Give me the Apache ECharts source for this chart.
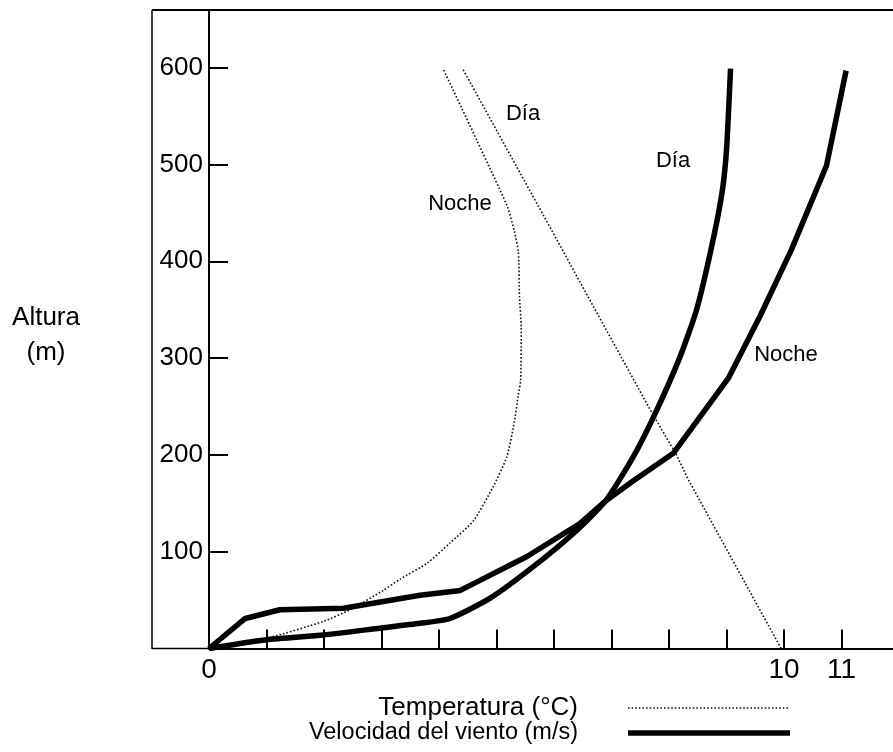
<!DOCTYPE html>
<html>
<head>
<meta charset="utf-8">
<script src="https://cdn.jsdelivr.net/npm/echarts@6/dist/echarts.min.js"></script>
<style>
  html, body { margin: 0; padding: 0; background: #fff; }
  #main { width: 893px; height: 752px; }
</style>
</head>
<body>
<div id="main"></div>
<script>
// datos: altura (m) y valor en el eje x
const tempDiaX = [9.95, 8.34, 8.13, 7.67, 6.78, 5.96, 4.41]
const tempDiaY = [0, 174, 200, 247, 343, 432, 599]

const tempNocheX = [0, 1.0, 1.99, 2.45, 3.03, 3.32, 3.79, 4.19, 4.6, 4.94, 5.18, 5.31, 5.38, 5.42, 5.43, 5.4, 5.38, 5.31, 5.18, 4.07]
const tempNocheY = [0, 10.5, 28, 40, 60, 71.5, 88, 109, 132, 167, 198, 234, 262, 277, 332, 363, 410, 431, 458, 599]

const vientoDiaX = [0, 1.0, 1.99, 2.97, 3.67, 4.19, 4.89, 5.64, 6.34, 6.89, 7.35, 7.73, 8.19, 8.48, 8.73, 8.92, 9.0, 9.07]
const vientoDiaY = [0, 9, 14, 21, 26, 31, 52, 84.5, 119, 152, 195, 239, 301, 350, 412, 470, 515, 599]

const vientoNocheX = [0, 0.63, 1.23, 2.34, 3.67, 4.37, 5.53, 6.45, 6.89, 7.35, 8.08, 9.03, 9.58, 10.13, 10.74, 11.08]
const vientoNocheY = [0, 31, 40, 41.5, 55, 60, 95, 129, 152, 172, 202, 279, 343, 412, 499, 597]

const xLabels = [0, 10, 11]
const yLabels = [100, 200, 300, 400, 500, 600]

const font = "'Liberation Sans', Arial, sans-serif"

function pares(xs, ys) {
  return xs.map((x, i) => [x, ys[i]])
}

var myChart = echarts.init(document.getElementById('main'))

const punteada = { color: '#111', width: 1.6, type: [1.6, 2] }
const gruesa = { color: '#000', width: 5.5 }

const option = {
  animation: false,
  backgroundColor: '#fff',
  grid: {
    left: 209,
    right: -6,
    top: 10,
    bottom: 103.5,
    outerBoundsMode: 'none'
  },
  xAxis: {
    type: 'value',
    min: 0,
    max: 12,
    interval: 1,
    splitLine: { show: false },
    axisLine: { show: true, onZero: false, lineStyle: { color: '#000', width: 2 } },
    axisTick: { show: true, inside: true, length: 19, lineStyle: { color: '#000', width: 2 } },
    axisLabel: {
      margin: 8,
      color: '#000',
      fontFamily: font,
      fontSize: 28,
      formatter: v => (xLabels.includes(v) ? String(v) : '')
    }
  },
  yAxis: {
    type: 'value',
    min: 0,
    max: 659.6,
    interval: 100,
    splitLine: { show: false },
    axisLine: { show: true, onZero: false, lineStyle: { color: '#000', width: 2 } },
    axisTick: { show: true, inside: true, length: 19, lineStyle: { color: '#000', width: 2 } },
    axisLabel: {
      margin: 6,
      color: '#000',
      fontFamily: font,
      fontSize: 26,
      formatter: v => (yLabels.includes(v) ? String(v) : '')
    }
  },
  series: [
    {
      name: 'Temperatura Día',
      type: 'line',
      data: pares(tempDiaX, tempDiaY),
      showSymbol: false,
      lineStyle: punteada
    },
    {
      name: 'Temperatura Noche',
      type: 'line',
      data: pares(tempNocheX, tempNocheY),
      showSymbol: false,
      smooth: 0.2,
      lineStyle: punteada
    },
    {
      name: 'Viento Día',
      type: 'line',
      data: pares(vientoDiaX, vientoDiaY),
      showSymbol: false,
      smooth: 0.2,
      lineStyle: gruesa
    },
    {
      name: 'Viento Noche',
      type: 'line',
      data: pares(vientoNocheX, vientoNocheY),
      showSymbol: false,
      lineStyle: gruesa
    }
  ],
  graphic: [
    // marco exterior
    { type: 'line', shape: { x1: 152, y1: 10, x2: 152, y2: 649 }, style: { stroke: '#000', lineWidth: 1.5 } },
    { type: 'line', shape: { x1: 152, y1: 10, x2: 893, y2: 10 }, style: { stroke: '#000', lineWidth: 2 } },
    { type: 'line', shape: { x1: 152, y1: 648.5, x2: 209, y2: 648.5 }, style: { stroke: '#000', lineWidth: 1.5 } },
    // título del eje y
    { type: 'text', x: 46, y: 318, style: { text: 'Altura', font: '26px ' + font, fill: '#000', align: 'center', verticalAlign: 'middle' } },
    { type: 'text', x: 46, y: 353, style: { text: '(m)', font: '26px ' + font, fill: '#000', align: 'center', verticalAlign: 'middle' } },
    // rótulos de las curvas
    { type: 'text', x: 523, y: 114, style: { text: 'Día', font: '22px ' + font, fill: '#000', align: 'center', verticalAlign: 'middle' } },
    { type: 'text', x: 460, y: 204, style: { text: 'Noche', font: '22px ' + font, fill: '#000', align: 'center', verticalAlign: 'middle' } },
    { type: 'text', x: 673, y: 161, style: { text: 'Día', font: '22px ' + font, fill: '#000', align: 'center', verticalAlign: 'middle' } },
    { type: 'text', x: 786, y: 355, style: { text: 'Noche', font: '22px ' + font, fill: '#000', align: 'center', verticalAlign: 'middle' } },
    // leyenda
    { type: 'text', x: 578, y: 708, style: { text: 'Temperatura (°C)', font: '26px ' + font, fill: '#000', align: 'right', verticalAlign: 'middle' } },
    { type: 'line', shape: { x1: 628, y1: 708, x2: 788, y2: 708 }, style: { stroke: '#111', lineWidth: 1.6, lineDash: [1.6, 2] } },
    { type: 'text', x: 578, y: 733, style: { text: 'Velocidad del viento (m/s)', font: '23.5px ' + font, fill: '#000', align: 'right', verticalAlign: 'middle' } },
    { type: 'line', shape: { x1: 628, y1: 733, x2: 790, y2: 733 }, style: { stroke: '#000', lineWidth: 5.5 } }
  ]
}

myChart.setOption(option)
</script>
</body>
</html>
